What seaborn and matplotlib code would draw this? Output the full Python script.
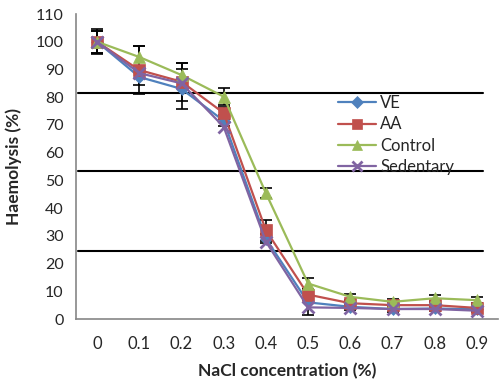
import numpy as np
import pandas as pd
import seaborn as sns
import matplotlib.pyplot as plt

# Data
nacl = ['0', '0.1', '0.2', '0.3', '0.4', '0.5', '0.6', '0.7', '0.8', '0.9']
ve = [100, 87.3, 83.0, 71.5, 29.0, 6.0, 4.4, 3.6, 3.8, 3.5]
aa = [100, 89.8, 85.6, 74.3, 32.0, 8.8, 5.7, 5.0, 5.0, 4.0]
control = [100, 94.5, 88.0, 80.2, 45.4, 12.8, 8.0, 6.2, 7.5, 6.8]
sedentary = [100, 88.7, 85.0, 69.3, 27.9, 4.2, 4.0, 3.6, 3.6, 3.0]

ve_err = [4, 3, 7.3, 2, 1.5, 4.5, 1, 1, 1, 1]
aa_err = [4.5, 8.5, 6.8, 2, 3.7, 2, 1, 1, 1, 1]
control_err = [4, 3.9, 4.2, 3, 1.8, 2, 1, 1, 1, 1]

ref_lines = [81.7, 53.4, 24.5]

series = {'VE': ve, 'AA': aa, 'Control': control, 'Sedentary': sedentary}
errs = {'VE': ve_err, 'AA': aa_err, 'Control': control_err}
colors = {'VE': '#4F81BD', 'AA': '#C0504D', 'Control': '#9BBB59', 'Sedentary': '#8064A2'}
markers = {'VE': 'D', 'AA': 's', 'Control': '^', 'Sedentary': 'x'}

df = pd.DataFrame([(i, name, v) for name, vals in series.items() for i, v in enumerate(vals)],
                  columns=['pos', 'group', 'value'])

sns.set_style('white')
plt.rcParams['font.family'] = ['Lato', 'DejaVu Sans']

fig = plt.figure(figsize=(5, 3.9), dpi=100)
ax = fig.add_axes([0.152, 0.182, 0.844, 0.782])

# error bars (behind the markers)
for name, e in errs.items():
    ax.errorbar(np.arange(len(nacl)), series[name], yerr=e, fmt='none',
                ecolor='black', elinewidth=1.2, capsize=4, capthick=1.2, zorder=2)

for name in series:
    sub = df[df.group == name]
    mk = markers[name]
    sns.lineplot(data=sub, x='pos', y='value', ax=ax, color=colors[name],
                 marker=mk,
                 markersize=8 if mk != 'D' else 6.5,
                 markeredgewidth=2 if mk == 'x' else 0.5,
                 markeredgecolor=colors[name],
                 linewidth=1.6, label=name, zorder=3)

for y in ref_lines:
    ax.axhline(y, xmin=0.005, xmax=0.964, color='black', linewidth=1.5, zorder=1)

ax.set_ylim(0, 110)
ax.set_yticks(np.arange(0, 111, 10))
ax.set_xlim(-0.5, len(nacl) - 0.5)
ax.set_xticks(np.arange(-0.5, len(nacl), 1))
ax.set_xticklabels([])
ax.set_xticks(np.arange(len(nacl)), minor=True)
ax.set_xticklabels(nacl, minor=True)
ax.tick_params(axis='x', which='major', length=5, width=1, color='#868686', direction='out')
ax.tick_params(axis='x', which='minor', length=0, pad=12, labelsize=12)
ax.tick_params(axis='y', length=4, width=1, color='#868686', direction='out', labelsize=11.5, pad=5)

for s in ['top', 'right']:
    ax.spines[s].set_visible(False)
for s in ['left', 'bottom']:
    ax.spines[s].set_color('#868686')
    ax.spines[s].set_linewidth(1.2)

ax.set_xlabel('NaCl concentration (%)', fontsize=12.5, fontweight='bold', labelpad=8)
ax.set_ylabel('Haemolysis (%)', fontsize=12.5, fontweight='bold', labelpad=10)

ax.legend(loc='upper left', bbox_to_anchor=(0.62, 0.734), frameon=False, fontsize=12,
          handlelength=2.3, handletextpad=0.25, labelspacing=0.32, borderaxespad=0,
          borderpad=0, markerscale=0.9)

fig.savefig('out.png', dpi=100)
